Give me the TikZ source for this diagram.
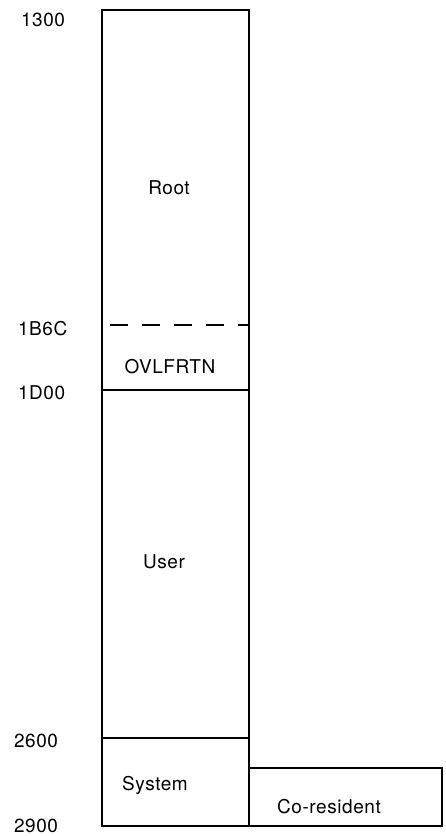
\documentclass[tikz,border=0pt]{standalone}
\usepackage{fontspec}
\setmainfont{TeX Gyre Heros}[LetterSpace=3]

\begin{document}
\begin{tikzpicture}[x=1pt, y=-1pt, line width=2pt,
    addr/.style={anchor=base west, inner sep=0pt, font=\fontsize{19}{22}\selectfont},
    part/.style={anchor=base, inner sep=0pt, font=\fontsize{19}{22}\selectfont}]
    \useasboundingbox (0,0) rectangle (446,836);

    % Draw memory column
    \draw (102,10) rectangle (249,826);
    \draw[line width=1.7pt, dash pattern=on 18pt off 14pt, dash phase=-8pt] (102,325) -- (249,325);
    \draw (102,390) -- (249,390);
    \draw (102,738) -- (249,738);

    % Draw co-resident block
    \draw (249,768) rectangle (442,826);

    % Draw addresses
    \node[addr] (a1300) at (20,26) {1300};
    \node[addr] (a1B6C) at (17,335) {1B6C};
    \node[addr] (a1D00) at (17,399) {1D00};
    \node[addr] (a2600) at (13,747) {2600};
    \node[addr] (a2900) at (13,832) {2900};

    % Draw region names
    \node[part] (root) at (169,194) {Root};
    \node[part] (ovl) at (170,373) {OVLFRTN};
    \node[part] (user) at (164,568) {User};
    \node[part] (sys) at (155,790) {System};
    \node[part] (cores) at (329,813) {Co-resident};
\end{tikzpicture}
\end{document}
